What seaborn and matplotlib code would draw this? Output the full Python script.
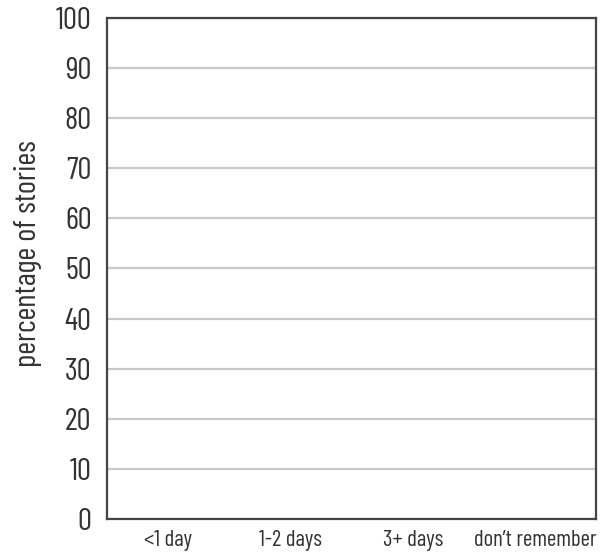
import matplotlib
matplotlib.use("Agg")
import matplotlib.pyplot as plt
import seaborn as sns
import pandas as pd

categories = ["<1 day", "1-2 days", "3+ days", "don\u2019t remember"]
values = [0, 0, 0, 0]
y_ticks = [0, 10, 20, 30, 40, 50, 60, 70, 80, 90, 100]

sns.set_style("white")
plt.rcParams['font.family'] = ['Barlow Condensed', 'DejaVu Sans']
plt.rcParams['font.weight'] = 400

df = pd.DataFrame({"category": categories, "value": values})

fig = plt.figure(figsize=(6.12, 5.54), dpi=100)
ax = fig.add_axes([0.1748, 0.0632, 0.7992, 0.9043])
sns.barplot(data=df, x="category", y="value", ax=ax, color="#4c72b0")

ax.set_ylim(0, 100)
ax.set_xlim(-0.5, 3.5)
ax.set_yticks(y_ticks)
ax.set_yticklabels([str(t) for t in y_ticks], fontsize=22.5, color="#333333")
ax.set_xticks(range(len(categories)))
ax.set_xticklabels(categories, fontsize=16.5, color="#333333")
ax.tick_params(axis="x", length=0, pad=8)
ax.tick_params(axis="y", length=0, pad=11)
ax.set_xlabel("")
ax.set_ylabel("percentage of stories", fontsize=22.5, color="#333333")
ax.yaxis.set_label_coords(-0.133, 0.529)
ax.yaxis.grid(True, color="#c8c8cc", linewidth=1.6)
ax.set_axisbelow(True)
for s in ax.spines.values():
    s.set_visible(True)
    s.set_color("#444444")
    s.set_linewidth(1.6)

fig.savefig("out.png", dpi=100)
